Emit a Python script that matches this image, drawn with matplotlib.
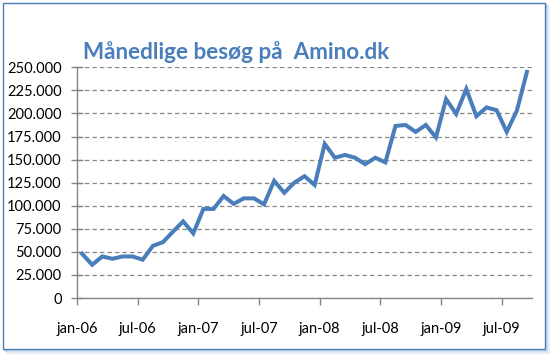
import numpy as np
import matplotlib
matplotlib.use("Agg")
import matplotlib.pyplot as plt
from matplotlib.patches import Rectangle
from matplotlib.ticker import FuncFormatter, MultipleLocator

# Månedlige besøg, jan-06 .. sep-09
visits = [48000, 36000, 45000, 42500, 45000, 45000, 41500, 56500, 60500, 72000,
          83000, 70000, 96500, 96500, 110500, 102000, 108000, 108000, 101500, 127000,
          114000, 125000, 132000, 122500, 167000, 152000, 155000, 152000, 145000, 152000,
          147000, 186500, 187500, 180000, 187500, 174000, 215500, 199500, 226500, 197000,
          206500, 203500, 180000, 203000, 245000]
tick_labels = ['jan-06', 'jul-06', 'jan-07', 'jul-07', 'jan-08', 'jul-08', 'jan-09', 'jul-09']
title = 'Månedlige besøg på  Amino.dk'

blue = '#4a7ebb'
grey = '#868686'

plt.rcParams['font.family'] = ['Lato', 'DejaVu Sans']

fig = plt.figure(figsize=(5.54, 3.57), dpi=100)
fig.patch.set_facecolor('white')

# chart area frame + soft shadow to the right/bottom
for i, a in enumerate([0.25, 0.18, 0.12, 0.07, 0.03]):
    fig.patches.append(Rectangle(((4 + i) / 554, (7 - i) / 357),
                                 542 / 554, 346 / 357, transform=fig.transFigure,
                                 facecolor='none', edgecolor=blue, alpha=a, lw=1.2))
fig.patches.append(Rectangle((3 / 554, 8 / 357), 542 / 554, 346 / 357,
                             transform=fig.transFigure, facecolor='white',
                             edgecolor=blue, lw=1.0, zorder=2))

ax = fig.add_axes([77 / 554, 1 - 298 / 357, (532 - 77) / 554, (298 - 67.3) / 357])
ax.set_zorder(3)

x = np.arange(len(visits)) + 0.5
ax.plot(x, visits, color=blue, lw=2.9, solid_joinstyle='miter', zorder=3)

ax.set_xlim(0, len(visits))
ax.set_ylim(0, 250000)
ax.set_xticks(np.arange(len(tick_labels)) * 6)
ax.set_xticklabels(tick_labels)
ax.yaxis.set_major_locator(MultipleLocator(25000))
ax.yaxis.set_major_formatter(FuncFormatter(lambda v, p: f'{int(v):,}'.replace(',', '.')))

ax.grid(axis='y', color=grey, ls=(0, (3.5, 2.5)), lw=0.9)
for s in ['top', 'right']:
    ax.spines[s].set_visible(False)
for s in ['left', 'bottom']:
    ax.spines[s].set_color(grey)
    ax.spines[s].set_linewidth(1.0)
ax.tick_params(axis='y', direction='inout', length=8, width=1, color=grey,
               labelsize=10.5, pad=7, labelcolor='black')
ax.tick_params(axis='x', direction='out', length=5, width=1, color=grey,
               labelsize=10.5, pad=12, labelcolor='black')

fig.text(83 / 554, 1 - 52 / 357, title, color=blue, fontsize=16.2,
         fontweight='bold', va='center', ha='left', zorder=4)

fig.savefig('out.png', dpi=100)
